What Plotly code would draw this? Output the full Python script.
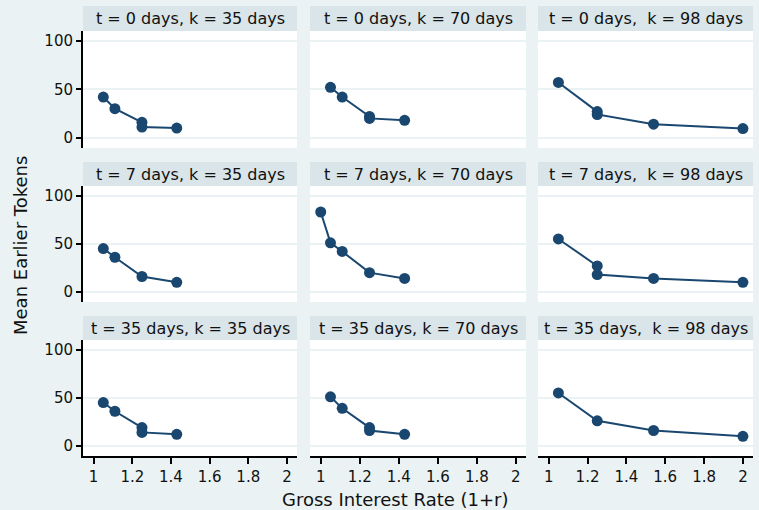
import plotly.graph_objects as go

# ---- data ----
panel_titles = [
    "t = 0 days, k = 35 days", "t = 0 days, k = 70 days", "t = 0 days,  k = 98 days",
    "t = 7 days, k = 35 days", "t = 7 days, k = 70 days", "t = 7 days,  k = 98 days",
    "t = 35 days, k = 35 days", "t = 35 days, k = 70 days", "t = 35 days,  k = 98 days",
]
x_t0_k35 = [1.05, 1.11, 1.25, 1.25, 1.43]
y_t0_k35 = [42, 30, 16, 11, 10]
x_t0_k70 = [1.05, 1.11, 1.25, 1.25, 1.43]
y_t0_k70 = [52, 42, 22, 20, 18]
x_t0_k98 = [1.05, 1.25, 1.25, 1.54, 2.00]
y_t0_k98 = [57, 27, 24, 14, 9.5]
x_t7_k35 = [1.05, 1.11, 1.25, 1.43]
y_t7_k35 = [45, 36, 16, 10]
x_t7_k70 = [1.00, 1.05, 1.11, 1.25, 1.43]
y_t7_k70 = [83, 51, 42, 20, 14]
x_t7_k98 = [1.05, 1.25, 1.25, 1.54, 2.00]
y_t7_k98 = [55, 27, 18, 14, 10]
x_t35_k35 = [1.05, 1.11, 1.25, 1.25, 1.43]
y_t35_k35 = [45, 36, 19, 14, 12]
x_t35_k70 = [1.05, 1.11, 1.25, 1.25, 1.43]
y_t35_k70 = [51, 39, 19, 16, 12]
x_t35_k98 = [1.05, 1.25, 1.54, 2.00]
y_t35_k98 = [55, 26, 16, 10]

y_ticks = [0, 50, 100]
x_ticks = [1, 1.2, 1.4, 1.6, 1.8, 2]
x_tick_labels = ["1", "1.2", "1.4", "1.6", "1.8", "2"]

panels_x = [x_t0_k35, x_t0_k70, x_t0_k98, x_t7_k35, x_t7_k70, x_t7_k98,
            x_t35_k35, x_t35_k70, x_t35_k98]
panels_y = [y_t0_k35, y_t0_k70, y_t0_k98, y_t7_k35, y_t7_k70, y_t7_k98,
            y_t35_k35, y_t35_k70, y_t35_k98]

# ---- layout geometry (pixels) ----
W, H = 759, 510
cols_px = [(83, 297), (310, 526), (538, 753)]
rows_px = [(31, 148), (186, 302), (340, 456)]
strips_px = [(6, 31), (162, 186), (316, 340)]

BG = "#eaf2f3"
STRIP = "#d9e5e8"
NAVY = "#1a476f"
FONT = "DejaVu Sans"

fig = go.Figure()
layout = dict(
    width=W, height=H, margin=dict(l=0, r=0, t=0, b=0),
    paper_bgcolor=BG, plot_bgcolor="white", showlegend=False,
    font=dict(family=FONT, size=15, color="#111"),
)
shapes = []
annotations = []

for i in range(9):
    r, c = divmod(i, 3)
    n = i + 1
    xa = "xaxis" if n == 1 else f"xaxis{n}"
    ya = "yaxis" if n == 1 else f"yaxis{n}"
    xref = "x" if n == 1 else f"x{n}"
    yref = "y" if n == 1 else f"y{n}"
    x0, x1 = cols_px[c]
    y0, y1 = rows_px[r]
    layout[xa] = dict(
        domain=[x0 / W, x1 / W], anchor=yref, range=[0.945, 2.052],
        showgrid=False, zeroline=False,
        tickvals=x_ticks, ticktext=x_tick_labels,
        showticklabels=(r == 2), ticks="outside" if r == 2 else "",
        ticklen=6, tickwidth=2, tickcolor="black",
        showline=(r == 2), linecolor="black", linewidth=2,
        tickfont=dict(size=15, family=FONT, color="#111"),
    )
    layout[ya] = dict(
        domain=[1 - y1 / H, 1 - y0 / H], anchor=xref, range=[-10.5, 110],
        showgrid=True, gridcolor=BG, gridwidth=1.6, zeroline=False,
        tickvals=y_ticks,
        showticklabels=(c == 0), ticks="outside" if c == 0 else "",
        ticklen=5, tickwidth=2, tickcolor="black",
        showline=(c == 0), linecolor="black", linewidth=2,
        tickfont=dict(size=15, family=FONT, color="#111"),
    )
    fig.add_trace(go.Scatter(
        x=panels_x[i], y=panels_y[i], mode="lines+markers",
        xaxis=xref, yaxis=yref,
        line=dict(color=NAVY, width=2),
        marker=dict(color=NAVY, size=11),
    ))
    sy0, sy1 = strips_px[r]
    shapes.append(dict(
        type="rect", xref="paper", yref="paper",
        x0=x0 / W, x1=x1 / W, y0=1 - sy1 / H, y1=1 - sy0 / H,
        fillcolor=STRIP, line=dict(width=0), layer="below",
    ))
    annotations.append(dict(
        text=panel_titles[i], xref="paper", yref="paper",
        x=(x0 + x1) / 2 / W, y=1 - (sy0 + sy1) / 2 / H,
        xanchor="center", yanchor="middle", showarrow=False,
        font=dict(size=16, family=FONT, color="#111"),
    ))

annotations.append(dict(
    text="Gross Interest Rate (1+r)", xref="paper", yref="paper",
    x=395 / W, y=1 - 499 / H, xanchor="center", yanchor="middle",
    showarrow=False, font=dict(size=18, family=FONT, color="#111"),
))
annotations.append(dict(
    text="Mean Earlier Tokens", xref="paper", yref="paper",
    x=20 / W, y=1 - 246 / H, xanchor="center", yanchor="middle",
    textangle=-90, showarrow=False, font=dict(size=18, family=FONT, color="#111"),
))

layout["shapes"] = shapes
layout["annotations"] = annotations
fig.update_layout(**layout)
fig.write_html("out.html")
